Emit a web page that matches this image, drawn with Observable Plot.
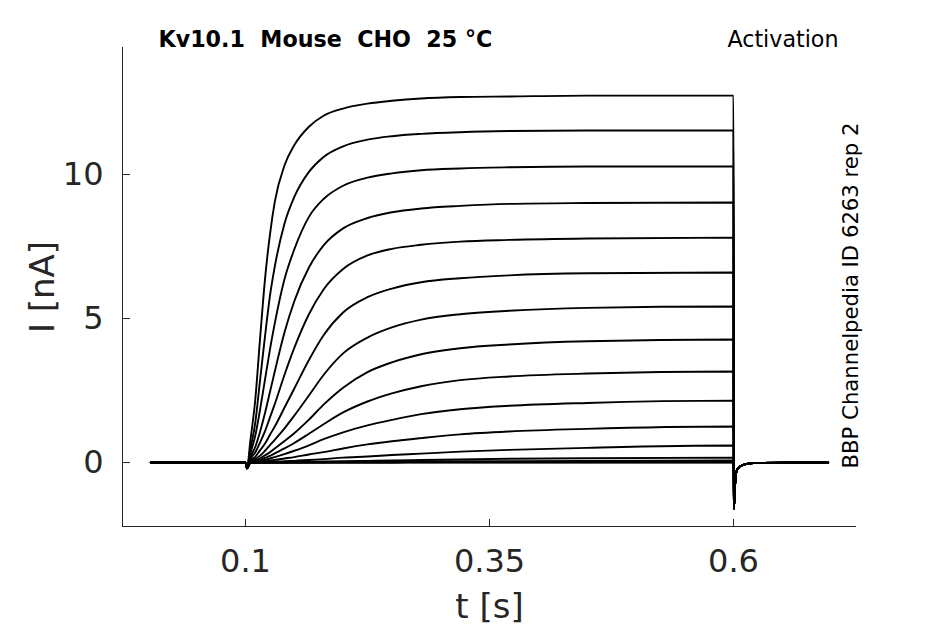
<!DOCTYPE html>
<html>
<head>
<meta charset="utf-8">
<script src="https://cdn.jsdelivr.net/npm/d3@7"></script>
<script src="https://cdn.jsdelivr.net/npm/@observablehq/plot@0.6"></script>
<style>
  html, body { margin: 0; padding: 0; background: #fff; }
  svg { font-family: "DejaVu Sans", sans-serif; }
</style>
</head>
<body>
<div id="chart"></div>
<script>
// Axis ticks
const xTicks = [0.1, 0.35, 0.6];
const yTicks = [0, 5, 10];
const xDomain = [-0.026, 0.726];
const yDomain = [-2.22, 14.41];

// Holding period before the step (shared by all sweeps)
const preTimes = [0.003, 0.1, 0.1015];
const preValues = [0, 0, -0.2];

// Sample times during the test pulse (s)
const stepTimes = [0.105, 0.11, 0.115, 0.12, 0.125, 0.13, 0.14, 0.15, 0.165, 0.18, 0.2, 0.225, 0.25, 0.28, 0.32, 0.37, 0.45, 0.6];

// Current (nA) of each sweep at stepTimes
const sweep1  = [0.76, 2.17, 4.33, 6.37, 7.9, 9.05, 10.32, 11.02, 11.66, 12.04, 12.29, 12.46, 12.56, 12.64, 12.69, 12.71, 12.74, 12.74];
const sweep2  = [0.46, 1.38, 2.88, 4.38, 5.77, 6.8, 8.3, 9.22, 10.09, 10.61, 10.98, 11.21, 11.33, 11.41, 11.47, 11.51, 11.53, 11.53];
const sweep3  = [0.31, 0.93, 1.85, 2.88, 3.91, 4.83, 6.37, 7.4, 8.53, 9.15, 9.61, 9.89, 10.04, 10.15, 10.21, 10.25, 10.28, 10.28];
const sweep4  = [0.18, 0.54, 1.08, 1.72, 2.44, 3.16, 4.52, 5.6, 6.77, 7.54, 8.13, 8.49, 8.69, 8.82, 8.91, 8.98, 9.01, 9.03];
const sweep5  = [0.12, 0.35, 0.7, 1.09, 1.56, 2.03, 3.05, 3.98, 5.15, 6.01, 6.72, 7.19, 7.42, 7.56, 7.67, 7.73, 7.78, 7.81];
const sweep6  = [0.07, 0.2, 0.43, 0.66, 0.96, 1.25, 1.91, 2.57, 3.56, 4.42, 5.21, 5.74, 6.04, 6.26, 6.4, 6.5, 6.57, 6.6];
const sweep7  = [0.04, 0.12, 0.24, 0.41, 0.6, 0.79, 1.19, 1.63, 2.33, 3.04, 3.79, 4.34, 4.69, 4.96, 5.15, 5.27, 5.37, 5.42];
const sweep8  = [0.03, 0.07, 0.15, 0.25, 0.36, 0.49, 0.75, 1.02, 1.49, 2.01, 2.6, 3.14, 3.48, 3.76, 3.97, 4.1, 4.21, 4.27];
const sweep9  = [0.02, 0.04, 0.09, 0.16, 0.23, 0.32, 0.49, 0.68, 1.0, 1.33, 1.74, 2.12, 2.4, 2.65, 2.86, 2.99, 3.09, 3.16];
const sweep10 = [0.01, 0.03, 0.05, 0.09, 0.14, 0.19, 0.29, 0.41, 0.6, 0.81, 1.05, 1.29, 1.48, 1.68, 1.85, 1.97, 2.07, 2.15];
const sweep11 = [0, 0.01, 0.03, 0.04, 0.07, 0.09, 0.14, 0.19, 0.28, 0.36, 0.49, 0.63, 0.74, 0.85, 0.98, 1.08, 1.17, 1.25];
const sweep12 = [0, 0, 0.01, 0.01, 0.02, 0.03, 0.05, 0.06, 0.09, 0.12, 0.17, 0.21, 0.26, 0.31, 0.38, 0.44, 0.51, 0.59];
const sweep13 = [0, 0, 0, 0, 0.01, 0.01, 0.01, 0.02, 0.03, 0.04, 0.05, 0.06, 0.07, 0.09, 0.11, 0.13, 0.15, 0.17];
const sweep14 = [0, 0, 0, 0, 0, 0, 0, 0.01, 0.01, 0.02, 0.02, 0.03, 0.03, 0.04, 0.05, 0.05, 0.06, 0.07];
const sweep15 = [0, 0, 0, 0, 0, 0, 0, 0, 0, 0, 0.01, 0.01, 0.01, 0.02, 0.02, 0.02, 0.03, 0.03];
const sweep16 = [0, 0, 0, 0, 0, 0, 0, 0, 0, 0, 0, 0, 0, 0.01, 0.01, 0.01, 0.01, 0.01];
const sweep17 = [0, 0, 0, 0, 0, 0, 0, 0, 0, 0, 0, 0, 0, 0, 0, 0, 0, 0];

// Tail current after the pulse (shared)
const tailTimes = [0.6004, 0.6015, 0.603, 0.606, 0.61, 0.62, 0.697];
const tailValues = [-1.6, -0.8, -0.3, -0.15, -0.08, -0.02, 0];

const sweeps = [sweep17, sweep16, sweep15, sweep14, sweep13, sweep12, sweep11, sweep10,
                sweep9, sweep8, sweep7, sweep6, sweep5, sweep4, sweep3, sweep2, sweep1];

const rows = [];
sweeps.forEach((s, k) => {
  preTimes.forEach((t, i) => rows.push({sweep: k, t, v: preValues[i]}));
  stepTimes.forEach((t, i) => rows.push({sweep: k, t, v: s[i]}));
  tailTimes.forEach((t, i) => rows.push({sweep: k, t, v: tailValues[i]}));
});

const axisColor = "#262626";
const W = 945, H = 624, mL = 122, mR = 89, mT = 47, mB = 98;

const chart = Plot.plot({
  width: W,
  height: H,
  marginLeft: mL,
  marginRight: mR,
  marginTop: mT,
  marginBottom: mB,
  x: {domain: xDomain, axis: null},
  y: {domain: yDomain, axis: null},
  marks: [
    Plot.line(rows, {x: "t", y: "v", z: "sweep", stroke: "black", strokeWidth: 1.9, curve: "monotone-x"}),
    Plot.ruleX([xDomain[0]], {stroke: axisColor, strokeWidth: 1}),
    Plot.ruleY([yDomain[0]], {stroke: axisColor, strokeWidth: 1}),
    Plot.tickX(xTicks, {x: d => d, stroke: axisColor, insetTop: H - mT - mB - 7}),
    Plot.tickY(yTicks, {y: d => d, stroke: axisColor, insetRight: W - mL - mR - 8}),
    Plot.text(xTicks, {x: d => d, frameAnchor: "bottom", textAnchor: "middle", lineAnchor: "top", dy: 23,
      text: d => String(d), fontSize: 32, fill: axisColor}),
    Plot.text(yTicks, {y: d => d, frameAnchor: "left", textAnchor: "end", dx: -19,
      text: d => String(d), fontSize: 32, fill: axisColor}),
    Plot.text(["t [s]"], {frameAnchor: "bottom", textAnchor: "middle", lineAnchor: "bottom", dy: 91,
      text: d => d, fontSize: 34, fill: axisColor}),
    Plot.text(["I [nA]"], {frameAnchor: "left", textAnchor: "middle", lineAnchor: "bottom", rotate: -90, dx: -69,
      text: d => d, fontSize: 34, fill: axisColor}),
    Plot.text(["Kv10.1  Mouse  CHO  25 °C"], {frameAnchor: "top-left", textAnchor: "start", lineAnchor: "bottom",
      dx: 36, dy: -1, text: d => d, fontSize: 22.2, fontWeight: "bold", fill: "black"}),
    Plot.text(["Activation"], {frameAnchor: "top-right", textAnchor: "end", lineAnchor: "bottom",
      dx: -18, dy: -1, text: d => d, fontSize: 22.2, fill: "black"}),
    Plot.text(["BBP Channelpedia ID 6263 rep 2"], {frameAnchor: "bottom-right", textAnchor: "start", lineAnchor: "bottom",
      rotate: -90, dx: 1, dy: -58, text: d => d, fontSize: 21.2, fill: "black"})
  ]
});
document.getElementById("chart").appendChild(chart);
</script>
</body>
</html>
